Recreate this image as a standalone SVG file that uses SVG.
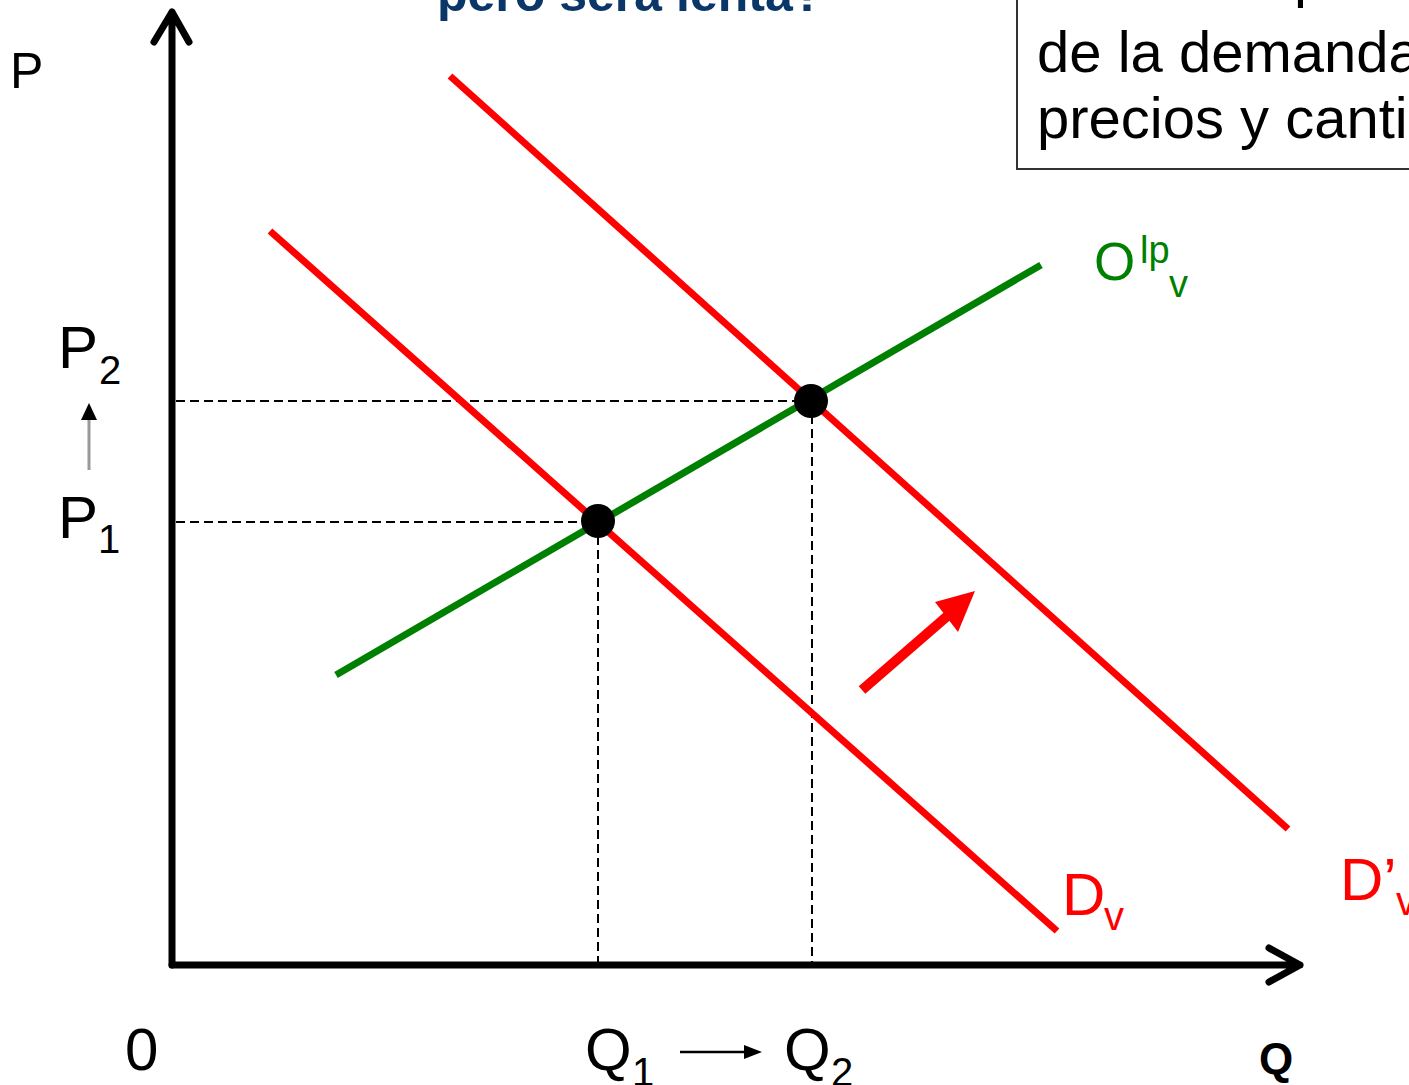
<svg xmlns="http://www.w3.org/2000/svg" width="1409" height="1085" viewBox="0 0 1409 1085">
<style>
.t{font-family:"Liberation Sans",Arial,sans-serif;}
.lbl{font-size:60px;fill:#000;}
.sub{font-size:40px;}
.red{fill:#ff0000;}
.grn{fill:#008000;}
.dash{stroke:#000;stroke-width:2;stroke-dasharray:9 5;fill:none;}
.axis{stroke:#000;stroke-width:7;fill:none;stroke-linecap:round;stroke-linejoin:round;}
</style>
<rect width="1409" height="1085" fill="#fff"/>
<g id="title"><text class="t" x="437" y="11" font-size="50" font-weight="bold" fill="#0b3668">pero será lenta?</text></g>
<g id="note">
<rect x="1017" y="-20" width="420" height="189" fill="none" stroke="#333" stroke-width="2"/>
<text class="t" x="1294" y="-4" font-size="58" fill="#000">p</text>
<text class="t" x="1037" y="72" font-size="58" fill="#000">de la demanda</text>
<text class="t" x="1037" y="138" font-size="58" fill="#000">precios y canti</text>
</g>
<g id="connectors">
<path class="dash" d="M176 401H811M176 522H598M598 522V965M812 401V965"/>
<line x1="336" y1="675" x2="1041" y2="265" stroke="#008000" stroke-width="7"/>
<line x1="270" y1="231" x2="1057" y2="931" stroke="#ff0000" stroke-width="7"/>
<line x1="450" y1="76" x2="1288" y2="829" stroke="#ff0000" stroke-width="7"/>
<path class="axis" d="M172 965V12M154 42L172 12L189 42"/>
<path class="axis" d="M172 965H1300M1269 948L1300 965L1269 982"/>
<line x1="862" y1="690" x2="952" y2="612" stroke="#ff0000" stroke-width="10"/>
<polygon points="975,591 935,602 958,632" fill="#ff0000"/>
<line x1="89" y1="470" x2="89" y2="418" stroke="#999" stroke-width="3"/>
<polygon points="89,403 81,420 97,420" fill="#000"/>
<line x1="680" y1="1052" x2="745" y2="1052" stroke="#000" stroke-width="2.5"/>
<polygon points="762,1052 744,1045 744,1059" fill="#000"/>
</g>
<g id="eq1"><circle cx="598" cy="521" r="17" fill="#000"/></g>
<g id="eq2"><circle cx="811" cy="401" r="17" fill="#000"/></g>
<g id="labels">
<text class="t" x="10" y="88" font-size="50" fill="#000">P</text>
<text class="t" x="125" y="1070" font-size="60" fill="#000">0</text>
<text class="t" x="1259" y="1074" font-size="44" font-weight="bold" fill="#000">Q</text>
<text class="t lbl" x="58" y="368">P<tspan class="sub" x="99" y="384">2</tspan></text>
<text class="t lbl" x="58" y="538">P<tspan class="sub" x="98" y="553">1</tspan></text>
<text class="t lbl" x="585" y="1070">Q<tspan class="sub" x="632" y="1086">1</tspan></text>
<text class="t lbl" x="784" y="1070">Q<tspan class="sub" x="831" y="1086">2</tspan></text>
<text class="t red" font-size="60" x="1062" y="915">D<tspan class="sub" x="1104" y="930">v</tspan></text>
<text class="t red" font-size="60" x="1340" y="900">D’<tspan class="sub" x="1396" y="915">v</tspan></text>
<text class="t grn" font-size="53" x="1094" y="280">O<tspan font-size="38" x="1140" y="263">lp</tspan><tspan font-size="38" x="1169" y="297">v</tspan></text>
</g>
</svg>
